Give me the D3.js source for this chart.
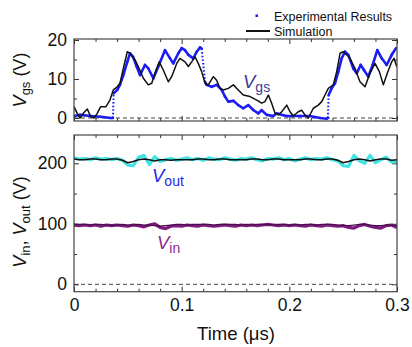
<!DOCTYPE html>
<html><head><meta charset="utf-8">
<script src="https://cdn.jsdelivr.net/npm/d3@7"></script>
<style>body{margin:0;background:#fff}svg{display:block;font-family:"Liberation Sans",Arial,sans-serif}</style>
</head><body><svg id="c" width="412" height="347"></svg>
<script>
// ---- Data ----
const vgsExpT = [0,0.0056,0.0155,0.0248,0.034,0.0362,0.0368,0.0402,0.0427,0.0458,0.0495,0.052,0.0548,0.0582,0.0613,0.0659,0.069,0.0737,0.0783,0.0845,0.0892,0.0922,0.0969,0.1,0.1031,0.1062,0.1108,0.114,0.117,0.1186,0.1217,0.1232,0.1279,0.1325,0.1372,0.1402,0.1433,0.148,0.1526,0.1572,0.1619,0.1665,0.1712,0.1743,0.179,0.1851,0.1883,0.1929,0.1976,0.2037,0.2099,0.2192,0.2285,0.2347,0.2358,0.2365,0.2393,0.2424,0.2455,0.2486,0.2517,0.2548,0.2594,0.2626,0.2663,0.2693,0.2733,0.2774,0.2817,0.2858,0.2904,0.2951,0.2991];
const vgsExpV = [0.5,0.8,0.5,0.3,0.0,0.0,6.3,7.2,8.5,11,14.4,16.6,15.7,13.2,11,13.6,12.7,10.2,13.2,17.4,15.3,14,16.6,17.9,17.4,16.2,15.3,17,18.1,17.8,9.3,8.5,8,8.5,7.2,5.5,4.2,4.4,3.3,2.5,3.3,2.05,1.2,2,0.8,0.5,1.2,0.8,0.5,0.5,0.5,0.5,0.0,-0.2,0.0,5.9,7.6,8.9,11.9,15.3,17,16.2,12.7,11.5,13.6,12.3,10.6,13.6,17.4,15.3,13.6,16.2,17.9];
const vgsSimT = [0,0.003,0.0056,0.0086,0.0124,0.0155,0.0186,0.0216,0.0248,0.0297,0.0334,0.0365,0.0402,0.0427,0.0458,0.0495,0.052,0.0567,0.0597,0.0644,0.069,0.0722,0.0762,0.0792,0.0829,0.0876,0.0907,0.0954,0.0984,0.1031,0.1062,0.1093,0.1124,0.1154,0.1186,0.1217,0.1247,0.1294,0.1325,0.1356,0.1387,0.1433,0.148,0.1526,0.1572,0.1635,0.1697,0.1743,0.1774,0.1805,0.1836,0.1867,0.1897,0.1929,0.1976,0.2006,0.2037,0.2083,0.2115,0.2145,0.2176,0.2223,0.2269,0.2301,0.2331,0.2362,0.2408,0.244,0.2471,0.2501,0.2533,0.2563,0.261,0.2656,0.2703,0.2749,0.2796,0.2836,0.2873,0.291,0.2951,0.2972,0.2997];
const vgsSimV = [2.9,1.2,0,1.2,2.3,0.3,0,1.2,2.9,2.9,4.6,7.2,8,8.9,12.7,17,16.6,14.9,13.2,10.2,8.5,8.9,12.3,14.4,12.3,9.3,10.6,14,15.3,14.4,13.2,14.4,15.7,14,11.9,8.9,8.5,10.6,9.7,7.6,7.2,7.6,8.5,7.2,5.9,5.5,4.6,3.8,4.2,5.9,3.8,1.2,0.8,1.6,3.3,1.6,0.5,1.6,2,0.8,0,2.5,3.3,4.2,5.9,7.6,8.5,11.9,16.6,17,16.2,15.3,12.7,9.3,8,11.5,14,11.9,8.5,11.5,14.4,15.3,13.2];

const timeB = [0,0.005,0.01,0.015,0.02,0.025,0.03,0.035,0.04,0.045,0.05,0.055,0.06,0.065,0.07,0.075,0.08,0.085,0.09,0.095,0.1,0.105,0.11,0.115,0.12,0.125,0.13,0.135,0.14,0.145,0.15,0.155,0.16,0.165,0.17,0.175,0.18,0.185,0.19,0.195,0.2,0.205,0.21,0.215,0.22,0.225,0.23,0.235,0.24,0.245,0.25,0.255,0.26,0.265,0.27,0.275,0.28,0.285,0.29,0.295,0.3];
const voutExp = [209,207,208,206,209,207,208,206,208,205,197,196,210,213,198,211,203,206,208,205,207,209,206,208,205,209,207,206,209,207,205,208,207,209,206,204,208,207,209,206,208,204,207,209,206,208,207,209,206,204,196,195,213,204,200,213,201,206,210,202,203];
const voutSim = [207,206,206,207,207,206,206,207,207,205,201,203,206,207,206,204,206,206,205,206,206,206,206,207,207,206,206,207,207,206,206,206,206,207,207,206,206,207,207,206,206,206,206,207,207,206,206,207,207,205,201,203,206,207,206,204,206,207,207,205,206];
const vinExp = [98,97,98,97,98,96,98,97,98,97,96,98,97,95,98,100,94,92,96,97,96,98,97,96,98,97,96,97,98,97,96,98,97,98,97,98,99,98,97,98,97,98,97,96,98,97,96,98,97,96,97,94,93,97,99,96,94,93,97,98,94];
const vinSim = [99,99,99,98,99,99,98,98,98,99,98,98,99,98,98,97,96,97,98,99,99,98,99,99,99,99,98,99,99,99,99,98,99,98,99,99,99,98,99,99,98,99,98,99,99,98,99,99,99,98,97,97,98,99,99,98,97,97,98,98,97];

const xTicks = [0,0.1,0.2,0.3];
const xMinor = [0.02,0.04,0.06,0.08,0.12,0.14,0.16,0.18,0.22,0.24,0.26,0.28];
const yTopTicks = [0,10,20];
const yTopMinor = [5,15];
const yBotTicks = [0,100,200];
const yBotMinor = [50,150];

// ---- Layout ----
const svg = d3.select("#c");
const L = 74, R = 397;
const x = d3.scaleLinear().domain([0,0.3]).range([L,R]);
const yT = d3.scaleLinear().domain([-0.77,20.26]).range([121,39]);
const yB = d3.scaleLinear().domain([-12.2,246.8]).range([291.7,135]);
const FS = 17.5;

function frame(y, tickLabels, major, minor, clipId, showX){
  const [b,t] = y.range();
  svg.append("clipPath").attr("id",clipId).append("rect").attr("x",L).attr("y",t).attr("width",R-L).attr("height",b-t);
  // dashed zero
  svg.append("line").attr("x1",L).attr("x2",R).attr("y1",y(0)).attr("y2",y(0))
    .attr("stroke","#444").attr("stroke-width",1).attr("stroke-dasharray","4,3");
  const axes = [
    [d3.axisBottom(x).tickValues(xTicks), `translate(0,${b})`, -5, showX],
    [d3.axisBottom(x).tickValues(xMinor), `translate(0,${b})`, -3, false],
    [d3.axisTop(x).tickValues(xTicks), `translate(0,${t})`, -5, false],
    [d3.axisTop(x).tickValues(xMinor), `translate(0,${t})`, -3, false],
    [d3.axisLeft(y).tickValues(major), `translate(${L},0)`, -5, true],
    [d3.axisLeft(y).tickValues(minor), `translate(${L},0)`, -3, false],
    [d3.axisRight(y).tickValues(major), `translate(${R},0)`, -5, false],
    [d3.axisRight(y).tickValues(minor), `translate(${R},0)`, -3, false]
  ];
  axes.forEach(([ax,tr,size,lab])=>{
    ax.tickSize(size).tickPadding(7);
    if(!lab) ax.tickFormat("");
    else ax.tickFormat(d=>d3.format("")(d));
    const g = svg.append("g").attr("transform",tr).call(ax);
    g.select(".domain").remove();
    g.selectAll("line").attr("stroke","#333");
    g.attr("font-size",FS).attr("font-family","Liberation Sans, Arial, sans-serif");
    g.selectAll("text").attr("fill","#111");
  });
}
frame(yT, true, yTopTicks, yTopMinor, "clipT", false);
frame(yB, true, yBotTicks, yBotMinor, "clipB", true);

// ---- Top panel series ----
const gT = svg.append("g").attr("clip-path","url(#clipT)");
const expPts = vgsExpT.map((t,i)=>[t,vgsExpV[i]]);
for(let i=0;i<expPts.length-1;i++){
  const a=expPts[i], c=expPts[i+1];
  const steep = Math.abs(c[1]-a[1])/(c[0]-a[0]) > 1500;
  gT.append("line").attr("x1",x(a[0])).attr("y1",yT(a[1])).attr("x2",x(c[0])).attr("y2",yT(c[1]))
    .attr("stroke","#1c1cf5").attr("stroke-width",steep?2:2.6)
    .attr("stroke-linecap",steep?"butt":"round")
    .attr("stroke-dasharray",steep?"1.6,2":null);
}
const lineT = d3.line().x(d=>x(d[0])).y(d=>yT(d[1]));
gT.append("path").datum(vgsSimT.map((t,i)=>[t,vgsSimV[i]])).attr("d",lineT)
  .attr("fill","none").attr("stroke","#111").attr("stroke-width",1.5).attr("stroke-linejoin","round");

// ---- Bottom panel series ----
const gB = svg.append("g").attr("clip-path","url(#clipB)");
const lineB = d3.line().x(d=>x(d[0])).y(d=>yB(d[1]));
gB.append("path").datum(timeB.map((t,i)=>[t,voutExp[i]])).attr("d",lineB)
  .attr("fill","none").attr("stroke","#3ee3e3").attr("stroke-width",3.2).attr("stroke-linejoin","round");
gB.append("path").datum(timeB.map((t,i)=>[t,voutSim[i]])).attr("d",lineB)
  .attr("fill","none").attr("stroke","#111").attr("stroke-width",1.5).attr("stroke-linejoin","round");
gB.append("path").datum(timeB.map((t,i)=>[t,vinExp[i]])).attr("d",lineB)
  .attr("fill","none").attr("stroke","#7d1a80").attr("stroke-width",3.2).attr("stroke-linejoin","round");
gB.append("path").datum(timeB.map((t,i)=>[t,vinSim[i]])).attr("d",lineB)
  .attr("fill","none").attr("stroke","#4a0f4a").attr("stroke-width",1.3).attr("stroke-linejoin","round");

// ---- Frames ----
[[yT],[yB]].forEach(([y])=>{
  const [b,t]=y.range();
  svg.append("rect").attr("x",L).attr("y",t).attr("width",R-L).attr("height",b-t)
    .attr("fill","none").attr("stroke","#444").attr("stroke-width",1.2);
});

// ---- Labels ----
function subLabel(xp,yp,main,sub,color,fsMain,fsSub,rot){
  const t = svg.append("text").attr("fill",color)
    .attr("transform",`translate(${xp},${yp})`+(rot?" rotate(-90)":""))
    .attr("text-anchor",rot?"middle":"start");
  return t;
}
// y-axis label top
const ly1 = svg.append("text").attr("transform","translate(26,80) rotate(-90)").attr("text-anchor","middle")
  .attr("font-size",18).attr("fill","#111");
ly1.append("tspan").attr("font-style","italic").text("V");
ly1.append("tspan").attr("font-size",13).attr("dy",4).text("gs");
ly1.append("tspan").attr("dy",-4).text(" (V)");
// y-axis label bottom
const ly2 = svg.append("text").attr("transform","translate(26,222) rotate(-90)").attr("text-anchor","middle")
  .attr("font-size",18).attr("fill","#111");
ly2.append("tspan").attr("font-style","italic").text("V");
ly2.append("tspan").attr("font-size",13).attr("dy",4).text("in");
ly2.append("tspan").attr("dy",-4).text(", ");
ly2.append("tspan").attr("font-style","italic").text("V");
ly2.append("tspan").attr("font-size",13).attr("dy",4).text("out");
ly2.append("tspan").attr("dy",-4).text(" (V)");
// x-axis label
svg.append("text").attr("x",236).attr("y",340).attr("text-anchor","middle").attr("font-size",18.5)
  .attr("fill","#111").text("Time (\u03bcs)");

// annotations
function annot(xp,yp,sub,color){
  const t = svg.append("text").attr("x",xp).attr("y",yp).attr("fill",color).attr("font-size",18.5);
  t.append("tspan").attr("font-style","italic").text("V");
  t.append("tspan").attr("font-size",14).attr("dy",4).text(sub);
}
annot(243,88,"gs","#3b3b95");
annot(152,182,"out","#2424ee");
annot(157,249,"in","#8c2a8c");

// legend
svg.append("rect").attr("x",255.5).attr("y",14.5).attr("width",2.5).attr("height",2.5).attr("fill","#1c1cf5");
svg.append("text").attr("x",274).attr("y",21).attr("font-size",12.5).attr("fill","#111").text("Experimental Results");
svg.append("line").attr("x1",246).attr("x2",270).attr("y1",31).attr("y2",31).attr("stroke","#111").attr("stroke-width",2);
svg.append("text").attr("x",274).attr("y",35.5).attr("font-size",12.5).attr("fill","#111").text("Simulation");
</script></body></html>
